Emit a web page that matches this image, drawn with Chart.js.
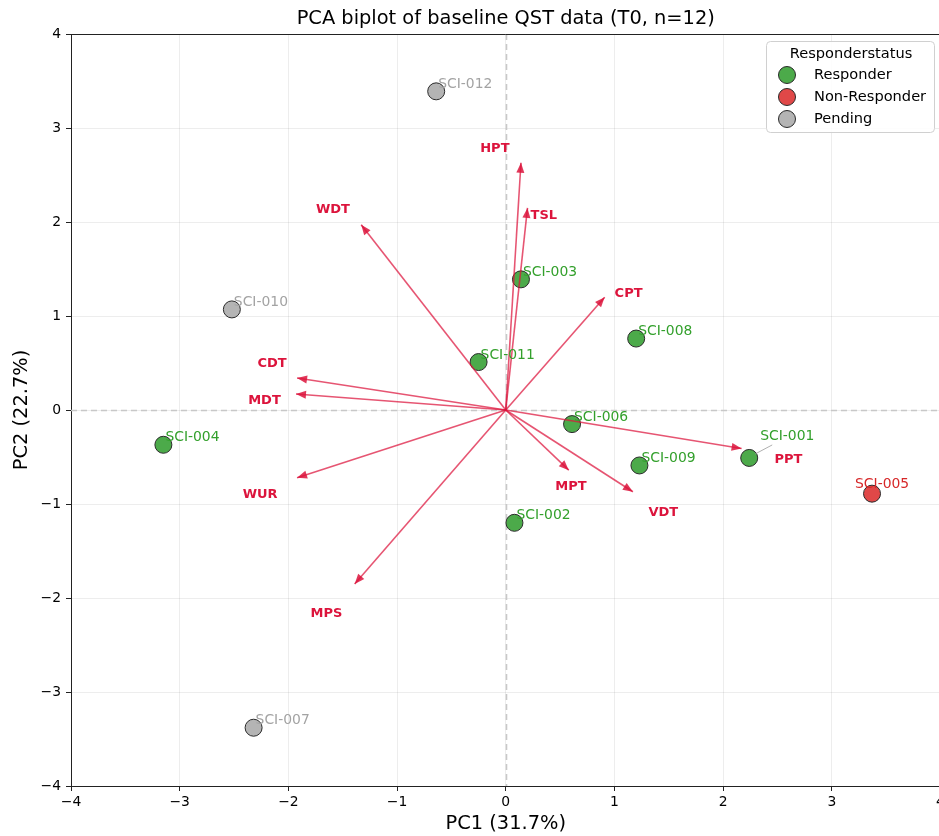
<!DOCTYPE html>
<html>
<head>
<meta charset="utf-8">
<script src="https://cdn.jsdelivr.net/npm/chart.js@4"></script>
<style>
  html, body { margin: 0; padding: 0; background: #fff; overflow: hidden; }
  #wrap { position: absolute; left: 0; top: 0; width: 950px; height: 836px; }
</style>
</head>
<body>
<div id="wrap"><canvas id="chart" width="950" height="836"></canvas></div>
<script>
// sample scores (PC1, PC2)
const sampleIds = ['SCI-001', 'SCI-002', 'SCI-003', 'SCI-004', 'SCI-005', 'SCI-006',
  'SCI-007', 'SCI-008', 'SCI-009', 'SCI-010', 'SCI-011', 'SCI-012'];
const pc1 = [2.24, 0.08, 0.14, -3.15, 3.37, 0.61, -2.32, 1.20, 1.23, -2.52, -0.25, -0.64];
const pc2 = [-0.51, -1.20, 1.39, -0.37, -0.89, -0.15, -3.38, 0.76, -0.59, 1.07, 0.51, 3.39];
const status = ['Responder', 'Responder', 'Responder', 'Responder', 'Non-Responder', 'Responder',
  'Pending', 'Responder', 'Responder', 'Pending', 'Responder', 'Pending'];

// variable loadings (arrow tips)
const variables = ['HPT', 'TSL', 'WDT', 'CPT', 'CDT', 'MDT', 'PPT', 'MPT', 'VDT', 'WUR', 'MPS'];
const loadX = [0.14, 0.20, -1.33, 0.91, -1.92, -1.93, 2.17, 0.58, 1.17, -1.92, -1.39];
const loadY = [2.63, 2.15, 1.97, 1.20, 0.34, 0.17, -0.41, -0.64, -0.87, -0.72, -1.85];
// where the variable labels ended up (data units)
const varLabelX = [-0.10, 0.35, -1.59, 1.13, -2.15, -2.22, 2.60, 0.60, 1.45, -2.26, -1.65];
const varLabelY = [2.78, 2.07, 2.13, 1.24, 0.49, 0.10, -0.53, -0.82, -1.09, -0.90, -2.17];

const groups = ['Responder', 'Non-Responder', 'Pending'];
const axisTicks = [-4, -3, -2, -1, 0, 1, 2, 3, 4];

const GROUP_STYLE = {
  'Responder': { fill: '#4caa4a', text: '#33a02c' },
  'Non-Responder': { fill: '#e04848', text: '#d62728' },
  'Pending': { fill: '#b4b4b4', text: '#a3a3a3' },
};
const ARROW = 'rgba(220,20,60,0.72)';
const ARROW_HEAD = 'rgba(220,20,60,0.85)';
const CRIMSON = '#dc143c';
const FONT = '"DejaVu Sans", sans-serif';

// pixel offsets for sample labels (repelled ones differ)
const labelShift = { 'SCI-001': [11, -22], 'SCI-005': [-17, -9] };

const datasets = [];
variables.forEach((v, i) => {
  datasets.push({
    label: v,
    data: [{ x: 0, y: 0 }, { x: loadX[i], y: loadY[i] }],
    showLine: true,
    borderColor: ARROW,
    borderWidth: 1.6,
    pointRadius: 0,
  });
});
groups.forEach((g) => {
  const pts = [];
  sampleIds.forEach((id, i) => {
    if (status[i] === g) pts.push({ x: pc1[i], y: pc2[i], id });
  });
  datasets.push({
    label: g,
    data: pts,
    backgroundColor: GROUP_STYLE[g].fill,
    borderColor: '#2a2a2a',
    borderWidth: 1,
    pointRadius: 8.5,
  });
});

const minus = (v) => String(v).replace('-', '\u2212');

const biplotDecor = {
  id: 'biplotDecor',
  beforeDatasetsDraw(chart) {
    const { ctx, chartArea: a, scales: { x, y } } = chart;
    ctx.save();
    ctx.strokeStyle = '#c8c8c8';
    ctx.lineWidth = 1.6;
    ctx.setLineDash([6, 4]);
    const x0 = Math.round(x.getPixelForValue(0)) + 0.5;
    const y0 = Math.round(y.getPixelForValue(0)) + 0.5;
    ctx.beginPath();
    ctx.moveTo(a.left, y0); ctx.lineTo(a.right, y0);
    ctx.moveTo(x0, a.top); ctx.lineTo(x0, a.bottom);
    ctx.stroke();
    ctx.restore();
  },
  afterDatasetsDraw(chart) {
    const { ctx, scales: { x, y } } = chart;
    ctx.save();
    // arrow heads + variable labels
    variables.forEach((v, i) => {
      const ox = x.getPixelForValue(0), oy = y.getPixelForValue(0);
      const tx = x.getPixelForValue(loadX[i]), ty = y.getPixelForValue(loadY[i]);
      const ang = Math.atan2(ty - oy, tx - ox);
      const len = 10, w = 4;
      ctx.fillStyle = ARROW_HEAD;
      ctx.beginPath();
      ctx.moveTo(tx, ty);
      ctx.lineTo(tx - len * Math.cos(ang) + w * Math.sin(ang), ty - len * Math.sin(ang) - w * Math.cos(ang));
      ctx.lineTo(tx - len * Math.cos(ang) - w * Math.sin(ang), ty - len * Math.sin(ang) + w * Math.cos(ang));
      ctx.closePath();
      ctx.fill();
      ctx.fillStyle = CRIMSON;
      ctx.font = 'bold 13px ' + FONT;
      ctx.textAlign = 'center';
      ctx.textBaseline = 'middle';
      ctx.fillText(v, x.getPixelForValue(varLabelX[i]), y.getPixelForValue(varLabelY[i]));
    });
    // sample labels
    ctx.font = '13.9px ' + FONT;
    ctx.textAlign = 'left';
    ctx.textBaseline = 'middle';
    sampleIds.forEach((id, i) => {
      const px = x.getPixelForValue(pc1[i]), py = y.getPixelForValue(pc2[i]);
      const sh = labelShift[id] || [2, -7];
      if (id === 'SCI-001') {
        ctx.strokeStyle = '#9a9a9a';
        ctx.lineWidth = 0.8;
        ctx.beginPath();
        ctx.moveTo(px + 6, py - 4);
        ctx.lineTo(px + 23, py - 13);
        ctx.stroke();
      }
      ctx.fillStyle = GROUP_STYLE[status[i]].text;
      ctx.fillText(id, px + sh[0], py + sh[1]);
    });
    ctx.restore();
  },
  afterDraw(chart) {
    const { ctx, chartArea: a } = chart;
    ctx.save();
    // top/right spines
    ctx.strokeStyle = '#222';
    ctx.lineWidth = 1;
    ctx.beginPath();
    ctx.moveTo(a.left, a.top + 0.5); ctx.lineTo(a.right, a.top + 0.5);
    ctx.moveTo(a.right - 0.5, a.top); ctx.lineTo(a.right - 0.5, a.bottom);
    ctx.stroke();
    // title
    ctx.fillStyle = '#000';
    ctx.font = '19.4px ' + FONT;
    ctx.textAlign = 'center';
    ctx.textBaseline = 'middle';
    ctx.fillText('PCA biplot of baseline QST data (T0, n=12)', (a.left + a.right) / 2, 19);
    // legend
    const lx = 766, ly = 41, lw = 168, lh = 91;
    ctx.fillStyle = 'rgba(255,255,255,0.85)';
    ctx.strokeStyle = '#d0d0d0';
    ctx.lineWidth = 1;
    ctx.beginPath();
    ctx.roundRect(lx + 0.5, ly + 0.5, lw, lh, 4);
    ctx.fill();
    ctx.stroke();
    ctx.fillStyle = '#000';
    ctx.font = '14.6px ' + FONT;
    ctx.textAlign = 'center';
    ctx.fillText('Responderstatus', lx + lw / 2 + 1, ly + 13);
    ctx.textAlign = 'left';
    groups.forEach((g, k) => {
      const cy = ly + 34 + k * 22;
      ctx.beginPath();
      ctx.arc(lx + 21, cy, 8.5, 0, Math.PI * 2);
      ctx.fillStyle = GROUP_STYLE[g].fill;
      ctx.fill();
      ctx.strokeStyle = '#2a2a2a';
      ctx.stroke();
      ctx.fillStyle = '#000';
      ctx.fillText(g, lx + 48, cy);
    });
    ctx.restore();
  },
};

const axisCommon = {
  type: 'linear',
  min: -4,
  max: 4,
  afterBuildTicks: (s) => { s.ticks = axisTicks.map((v) => ({ value: v })); },
  grid: { color: 'rgba(0,0,0,0.07)', lineWidth: 1, tickColor: '#222', tickLength: 5 },
  border: { display: true, color: '#222', width: 1 },
};

new Chart(document.getElementById('chart'), {
  type: 'scatter',
  data: { datasets },
  options: {
    responsive: false,
    animation: false,
    devicePixelRatio: 1,
    layout: { padding: { top: 34, right: 9, left: 0, bottom: 0 } },
    plugins: { legend: { display: false }, tooltip: { enabled: false }, title: { display: false } },
    scales: {
      x: {
        ...axisCommon,
        position: 'bottom',
        afterFit: (s) => { s.height = 50; },
        ticks: { color: '#000', font: { family: FONT, size: 13.9 }, padding: 3, callback: minus },
        title: { display: true, text: 'PC1 (31.7%)', color: '#000', font: { family: FONT, size: 19.4 }, padding: { top: 0, bottom: 0 } },
      },
      y: {
        ...axisCommon,
        position: 'left',
        afterFit: (s) => { s.width = 71; },
        ticks: { color: '#000', font: { family: FONT, size: 13.9 }, padding: 5, callback: minus },
        title: { display: true, text: 'PC2 (22.7%)', color: '#000', font: { family: FONT, size: 19.4 }, padding: { top: 10.5, bottom: 0 } },
      },
    },
  },
  plugins: [biplotDecor],
});
</script>
</body>
</html>
